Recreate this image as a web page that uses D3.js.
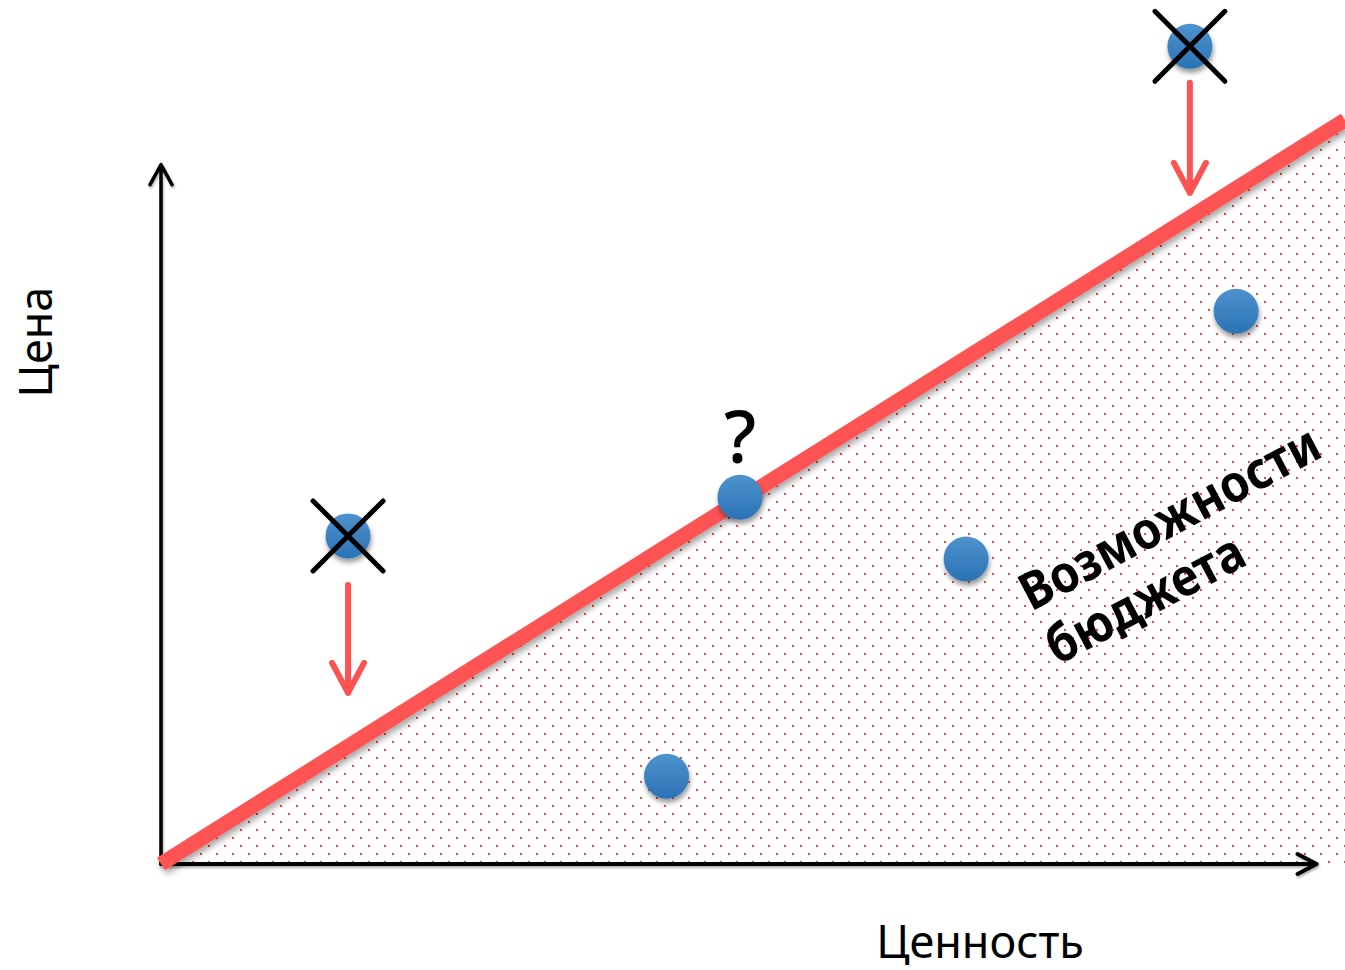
<!DOCTYPE html>
<html>
<head>
<meta charset="utf-8">
<script src="https://cdn.jsdelivr.net/npm/d3@7"></script>
<style>
  body { margin: 0; background: #fff; }
  text { font-family: "Noto Sans", "Open Sans", sans-serif; }
</style>
</head>
<body>
<div id="chart-area"></div>
<script>
// value (x) vs price (y), both on a 0..100 scale; budget line is y = x
var pointValue = [15.8, 86.9, 48.9, 68.0, 90.8, 42.7];
var pointPrice = [44.1, 109.9, 49.3, 41.0, 74.3, 11.8];
var pointCrossed = [true, true, false, false, false, false];

var budgetValue = [0, 100];
var budgetPrice = [0, 100];

// red "move down" arrows
var arrowValue = [15.8, 86.9];
var arrowFrom = [37.5, 105.0];
var arrowTo = [23.0, 90.2];

var axisMaxValue = 97.6;
var axisMaxPrice = 94.0;

var xLabel = "Ценность";
var yLabel = "Цена";
var zoneLabel = ["Возможности", "бюджета"];
var zoneAnchor = [73.5, 33.9];
var zoneAngle = 28;
var questionIndex = 2;

var width = 1345, height = 970;

var x = d3.scaleLinear().domain([0, 100]).range([161, 1345]);
var y = d3.scaleLinear().domain([0, 100]).range([864, 120]);

var svg = d3.select("#chart-area")
    .append("svg")
        .attr("width", width)
        .attr("height", height);

var defs = svg.append("defs");

// staggered red dots
var pat = defs.append("pattern")
    .attr("id", "dots")
    .attr("patternUnits", "userSpaceOnUse")
    .attr("x", 0).attr("y", 13)
    .attr("width", 16).attr("height", 16);
pat.append("rect").attr("x", 0).attr("y", 0).attr("width", 2).attr("height", 2).attr("fill", "#f04848");
pat.append("rect").attr("x", 8).attr("y", 8).attr("width", 2).attr("height", 2).attr("fill", "#f04848");

var grad = defs.append("linearGradient")
    .attr("id", "ball")
    .attr("x1", 0).attr("y1", 0).attr("x2", 0).attr("y2", 1);
grad.append("stop").attr("offset", "0%").attr("stop-color", "#4f92cf");
grad.append("stop").attr("offset", "100%").attr("stop-color", "#2a73b4");

function shadow(id, dx, dy, sd, op) {
    defs.append("filter")
        .attr("id", id)
        .attr("x", "-30%").attr("y", "-30%")
        .attr("width", "160%").attr("height", "160%")
      .append("feDropShadow")
        .attr("dx", dx).attr("dy", dy)
        .attr("stdDeviation", sd)
        .attr("flood-color", "#000")
        .attr("flood-opacity", op);
}
shadow("shLine", 2, 4, 3, 0.35);
shadow("shBall", 1, 4, 2.5, 0.4);
shadow("shAxis", 1, 2, 1.2, 0.3);

// dotted budget area under the line
var area = [[budgetValue[0], budgetPrice[0]], [budgetValue[1], budgetPrice[1]], [budgetValue[1], 0]];
svg.append("path")
    .attr("d", d3.line().x(function(d) { return x(d[0]); }).y(function(d) { return y(d[1]); })(area) + "Z")
    .attr("fill", "url(#dots)");

// axes
var axes = svg.append("g")
    .attr("fill", "none")
    .attr("stroke", "#000")
    .attr("stroke-linecap", "round")
    .attr("stroke-linejoin", "round")
    .attr("filter", "url(#shAxis)");

axes.append("path")
    .attr("stroke-width", 4)
    .attr("d", "M" + x(0) + "," + y(0) + "H" + x(axisMaxValue)
        + "M" + (x(axisMaxValue) - 19) + "," + (y(0) - 10)
        + "L" + x(axisMaxValue) + "," + y(0)
        + "L" + (x(axisMaxValue) - 19) + "," + (y(0) + 10));

axes.append("path")
    .attr("stroke-width", 3.5)
    .attr("d", "M" + x(0) + "," + y(0) + "V" + y(axisMaxPrice)
        + "M" + (x(0) - 11) + "," + (y(axisMaxPrice) + 20)
        + "L" + x(0) + "," + y(axisMaxPrice)
        + "L" + (x(0) + 11) + "," + (y(axisMaxPrice) + 20));

// budget line
svg.append("line")
    .attr("x1", x(budgetValue[0])).attr("y1", y(budgetPrice[0]))
    .attr("x2", x(budgetValue[1])).attr("y2", y(budgetPrice[1]))
    .attr("stroke", "#fd5252")
    .attr("stroke-width", 15)
    .attr("filter", "url(#shLine)");

// arrows
svg.selectAll(".arrow")
    .data(arrowValue).enter()
    .append("path")
        .attr("class", "arrow")
        .attr("fill", "none")
        .attr("stroke", "#fd5252")
        .attr("stroke-width", 6)
        .attr("stroke-linecap", "round")
        .attr("stroke-linejoin", "round")
        .attr("d", function(d, i) {
            var cx = x(d), top = y(arrowFrom[i]), tip = y(arrowTo[i]);
            return "M" + cx + "," + top + "V" + tip
                + "M" + (cx - 16) + "," + (tip - 30)
                + "L" + cx + "," + tip
                + "L" + (cx + 16) + "," + (tip - 30);
        });

// points
svg.selectAll(".ball")
    .data(pointValue).enter()
    .append("circle")
        .attr("class", "ball")
        .attr("cx", function(d) { return x(d); })
        .attr("cy", function(d, i) { return y(pointPrice[i]); })
        .attr("r", 22.5)
        .attr("fill", "url(#ball)")
        .attr("filter", "url(#shBall)");

// crosses on rejected points
svg.selectAll(".cross")
    .data(pointValue.filter(function(d, i) { return pointCrossed[i]; })).enter()
    .append("path")
        .attr("class", "cross")
        .attr("stroke", "#000")
        .attr("stroke-width", 5)
        .attr("stroke-linecap", "round")
        .attr("d", function(d) {
            var i = pointValue.indexOf(d);
            var cx = x(d), cy = y(pointPrice[i]), s = 35;
            return "M" + (cx - s) + "," + (cy - s) + "L" + (cx + s) + "," + (cy + s)
                + "M" + (cx + s) + "," + (cy - s) + "L" + (cx - s) + "," + (cy + s);
        });

// question mark over the point on the line
svg.append("text")
    .attr("x", x(pointValue[questionIndex]))
    .attr("y", y(pointPrice[questionIndex]) - 34)
    .attr("text-anchor", "middle")
    .attr("font-size", "72px")
    .attr("font-weight", 500)
    .text("?");

// rotated zone label along the budget line (stretched a bit vertically)
var zone = svg.append("text")
    .attr("transform", "translate(" + x(zoneAnchor[0]) + "," + y(zoneAnchor[1]) + ") rotate(" + (-zoneAngle) + ") scale(1,1.1)")
    .attr("font-size", "47px")
    .attr("font-weight", "bold");
zone.selectAll("tspan")
    .data(zoneLabel).enter()
    .append("tspan")
        .attr("x", function(d, i) { return i * -2; })
        .attr("y", function(d, i) { return i * 54.5; })
        .text(function(d) { return d; });

// X Label
svg.append("text")
    .attr("x", 980)
    .attr("y", 958)
    .attr("font-size", "45px")
    .attr("text-anchor", "middle")
    .text(xLabel);

// Y Label
svg.append("text")
    .attr("x", -342)
    .attr("y", 52)
    .attr("font-size", "45px")
    .attr("text-anchor", "middle")
    .attr("transform", "rotate(-90)")
    .text(yLabel);
</script>
</body>
</html>
